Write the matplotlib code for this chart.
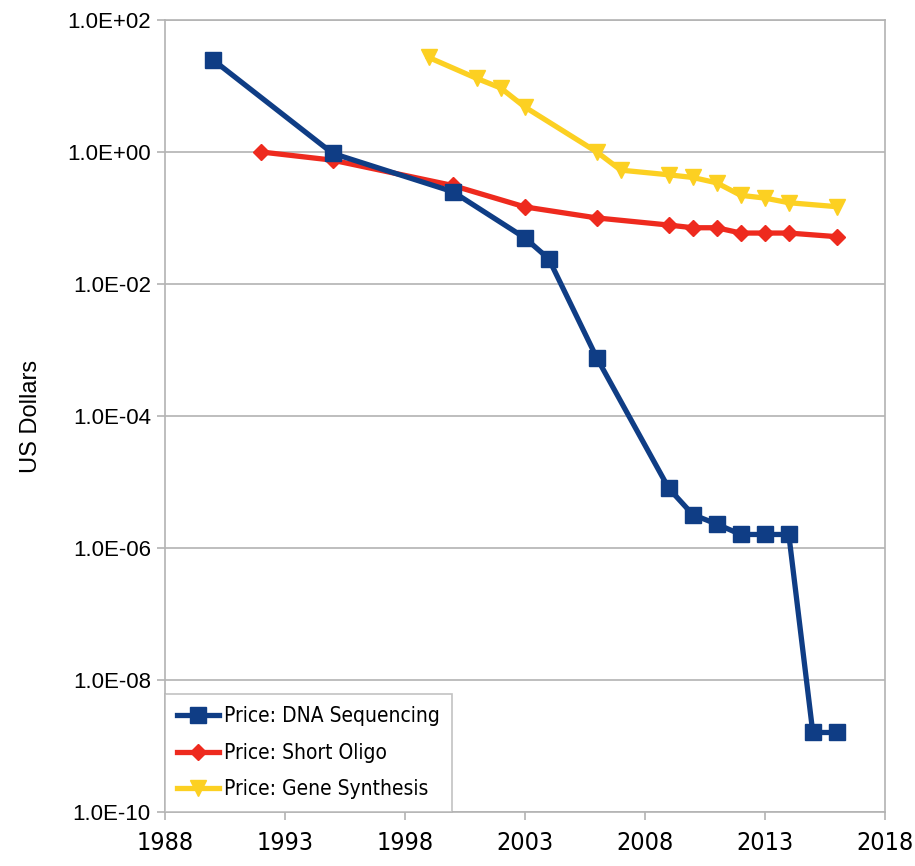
"""Price of DNA sequencing, short oligo and gene synthesis over time (log scale)."""
import matplotlib
matplotlib.use("Agg")
import matplotlib.pyplot as plt
from matplotlib import font_manager
from matplotlib.font_manager import FontProperties
from matplotlib.ticker import FixedLocator, FuncFormatter

# the original uses a narrow font; take one if installed
narrow_files = [f.fname for f in font_manager.fontManager.ttflist
                if ("Narrow" in f.fname or "Condensed" in f.fname)
                and "Bold" not in f.fname and "Italic" not in f.fname
                and "Oblique" not in f.fname]
if narrow_files:
    leg_font = FontProperties(fname=narrow_files[0], size=15)
    tick_font = FontProperties(fname=narrow_files[0], size=18)
else:
    leg_font = FontProperties(family="Liberation Sans", size=14)
    tick_font = FontProperties(family="Liberation Sans", size=17)

# data
seq_years = [1990, 1995, 2000, 2003, 2004, 2006, 2009, 2010, 2011, 2012, 2013, 2014, 2015, 2016]
seq_price = [25, 0.95, 0.25, 0.05, 0.024, 7.6e-4, 8.0e-6, 3.2e-6, 2.3e-6, 1.6e-6, 1.6e-6, 1.6e-6, 1.6e-9, 1.6e-9]

oligo_years = [1992, 1995, 2000, 2003, 2006, 2009, 2010, 2011, 2012, 2013, 2014, 2016]
oligo_price = [1.0, 0.75, 0.31, 0.147, 0.10, 0.078, 0.071, 0.071, 0.059, 0.059, 0.059, 0.052]

gene_years = [1999, 2001, 2002, 2003, 2006, 2007, 2009, 2010, 2011, 2012, 2013, 2014, 2016]
gene_price = [27, 13, 9.3, 4.8, 1.0, 0.53, 0.45, 0.41, 0.34, 0.22, 0.20, 0.17, 0.148]

x_ticks = [1988, 1993, 1998, 2003, 2008, 2013, 2018]
y_ticks = [1e-10, 1e-8, 1e-6, 1e-4, 1e-2, 1e0, 1e2]

fig = plt.figure(figsize=(9.15, 8.66), dpi=100)
ax = fig.add_axes([0.180, 0.0624, 0.787, 0.9146])

ax.plot(seq_years, seq_price, color="#0f3d85", lw=3.8, marker="s", ms=11,
        label="Price: DNA Sequencing", zorder=4)
ax.plot(oligo_years, oligo_price, color="#ee2a1e", lw=3.8, marker="D", ms=8.5,
        label="Price: Short Oligo", zorder=3)
ax.plot(gene_years, gene_price, color="#fcd022", lw=3.8, marker="v", ms=12,
        label="Price: Gene Synthesis", zorder=2)

ax.set_yscale("log")
ax.set_ylim(1e-10, 1e2)
ax.set_xlim(1988, 2018)
ax.yaxis.set_major_locator(FixedLocator(y_ticks))
ax.yaxis.set_minor_locator(FixedLocator([]))
ax.yaxis.set_major_formatter(FuncFormatter(lambda v, p: "%.1E" % v))
ax.set_xticks(x_ticks)
ax.set_xticklabels([str(x) for x in x_ticks])

ax.grid(axis="y", color="#b3b3b3", lw=1.2)
ax.set_axisbelow(True)
for side in ["left", "right", "bottom", "top"]:
    ax.spines[side].set_color("#b3b3b3")
    ax.spines[side].set_linewidth(1.2)
ax.tick_params(axis="both", color="#b3b3b3", length=6, width=1.2)
ax.tick_params(axis="y", labelsize=16, pad=4)
ax.tick_params(axis="x", pad=8)
for lab in ax.get_yticklabels():
    lab.set_fontfamily("Liberation Sans")
for lab in ax.get_xticklabels():
    lab.set_fontproperties(tick_font)

ax.set_ylabel("US Dollars", fontsize=17, family="Liberation Sans", labelpad=18)

leg = ax.legend(loc="lower left", prop=leg_font,
                frameon=True, fancybox=False, edgecolor="#b3b3b3",
                borderaxespad=0.0, handlelength=2.0, labelspacing=0.8,
                borderpad=0.6, handletextpad=0.25)
leg.get_frame().set_linewidth(1.2)

plt.savefig("out.png", dpi=100)
plt.close()
